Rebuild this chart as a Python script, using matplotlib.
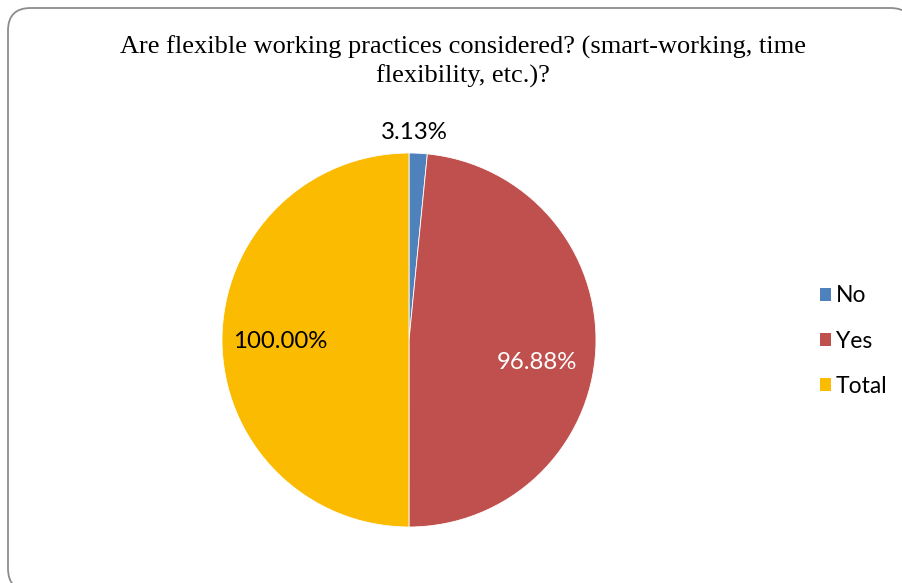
import matplotlib.pyplot as plt
from matplotlib.patches import FancyBboxPatch, Patch

title = "Are flexible working practices considered? (smart-working, time\nflexibility, etc.)?"
categories = ["No", "Yes", "Total"]
percent = [3.13, 96.88, 100.00]
colors = ["#4F81BD", "#C0504D", "#FABB00"]

fig = plt.figure(figsize=(9.03, 5.83), dpi=100)

# rounded chart frame, runs off the right and bottom edges
frame = FancyBboxPatch((8 / 903, -8 / 583), 905 / 903, 583 / 583,
                       boxstyle="round,pad=0,rounding_size=0.025",
                       transform=fig.transFigure, facecolor="white",
                       edgecolor="#8C8C8C", linewidth=1.3, zorder=-5,
                       mutation_aspect=903 / 583)
fig.patches.append(frame)

fig.text(463 / 903, 1 - 62 / 583, title, ha="center", va="center",
         family="Liberation Serif", fontsize=19, linespacing=1.32)

ax = fig.add_axes([222 / 903, 56 / 583, 374 / 903, 374 / 583], zorder=2)
wedges, _ = ax.pie(percent, colors=colors, startangle=90, counterclock=False,
                   radius=1, wedgeprops=dict(edgecolor="white", linewidth=0.6))
ax.set_xlim(-1, 1)
ax.set_ylim(-1, 1)

label_pos = [(0.03, 1.11), (0.685, -0.118), (-0.69, -0.01)]
label_col = ["black", "white", "black"]
for (x, y), v, c in zip(label_pos, percent, label_col):
    ax.text(x, y, f"{v:.2f}%", ha="center", va="center", color=c,
            family="Lato", fontsize=17.3, clip_on=False)

handles = [Patch(facecolor=c, edgecolor="none") for c in colors]
fig.legend(handles, categories, loc="center left",
           bbox_to_anchor=(799 / 903, 1 - 341 / 583), frameon=False,
           prop=dict(family="Lato", size=16.5), handlelength=0.5,
           handleheight=0.5, handletextpad=0.2, labelspacing=1.05)

fig.savefig("out.png", dpi=100)
